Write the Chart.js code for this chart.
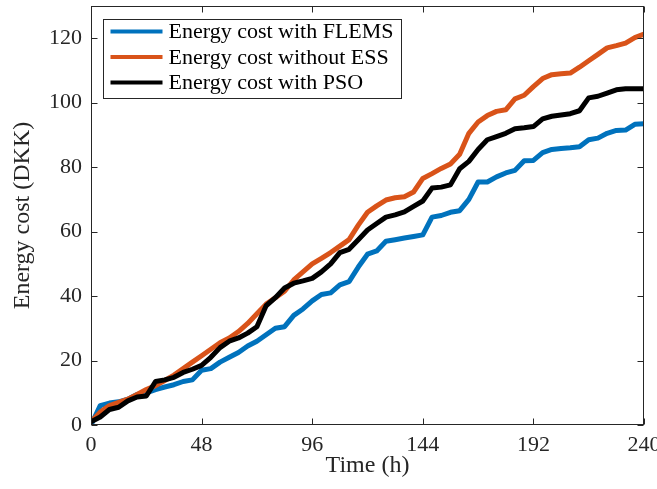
<!DOCTYPE html>
<html>

<head>
    <title>Energy cost over time</title>
    <script src="https://cdn.jsdelivr.net/npm/chart.js"></script>
    <style>
        body {
            margin: 0;
            background: #fff;
        }

        .chart-wrap {
            width: 657px;
            height: 489px;
        }
    </style>
</head>

<body>
    <div class="chart-wrap"><canvas id="costChart"></canvas></div>

    <script>
        // time axis (h)
        const hours = [0, 4, 8, 12, 16, 20, 24, 28, 32, 36, 40, 44, 48, 52, 56, 60, 64, 68, 72, 76, 80, 84, 88, 92, 96,
            100, 104, 108, 112, 116, 120, 124, 128, 132, 136, 140, 144, 148, 152, 156, 160, 164, 168, 172, 176, 180,
            184, 188, 192, 196, 200, 204, 208, 212, 216, 220, 224, 228, 232, 236, 240];

        // cost values (DKK)
        const costFlems = [0, 6, 6.8, 7.2, 8, 9.5, 10, 11, 11.8, 12.5, 13.5, 14, 17, 17.5, 19.5, 21, 22.5, 24.5, 26, 28,
            30, 30.5, 34, 36, 38.5, 40.5, 41, 43.5, 44.5, 49, 53, 54, 57, 57.5, 58, 58.5, 59, 64.5, 65, 66, 66.5, 70,
            75.4, 75.4, 77, 78.2, 79, 82, 82.1, 84.5, 85.5, 85.8, 86, 86.3, 88.5, 89, 90.5, 91.4, 91.5, 93.3, 93.5];
        const costNoEss = [1, 4, 6, 7, 8, 9.5, 11, 12.2, 13.8, 15.5, 17.5, 19.5, 21.5, 23.5, 25.5, 27, 29, 31.5, 34.5,
            37.5, 39.5, 41.5, 45, 47.5, 50, 51.7, 53.5, 55.5, 57.5, 62, 66, 68, 69.8, 70.5, 70.8, 72.3, 76.5, 78, 79.6,
            81, 84, 90.5, 94, 96, 97.3, 97.8, 101.2, 102.3, 105, 107.5, 108.7, 109, 109.2, 111, 113, 115, 117, 117.7,
            118.5, 120.2, 121.3];
        const costPso = [1, 2.5, 4.8, 5.5, 7.5, 8.7, 9, 13.5, 14, 14.8, 16.3, 17.3, 18.5, 21, 24, 26, 27, 28.5, 30.5,
            37, 39.5, 42.5, 44, 44.7, 45.5, 47.5, 50, 53.5, 54.5, 57.5, 60.5, 62.5, 64.5, 65.2, 66.1, 67.8, 69.5, 73.5,
            73.8, 74.5, 79.5, 81.8, 85.5, 88.5, 89.5, 90.5, 91.9, 92.2, 92.6, 95, 95.8, 96.2, 96.6, 97.5, 101.5, 102,
            103, 104, 104.3, 104.3, 104.3];

        const seriesLabels = ["Energy cost with FLEMS", "Energy cost without ESS", "Energy cost with PSO"];
        const seriesColors = ["#0072BD", "#D95319", "#000000"];

        const xTicks = [0, 48, 96, 144, 192, 240];
        const yTicks = [0, 20, 40, 60, 80, 100, 120];

        const axisColor = "#262626";
        const fontFamily = "'Liberation Serif', 'Times New Roman', serif";

        Chart.defaults.font.family = fontFamily;
        Chart.defaults.color = axisColor;

        // box round the axes with inward ticks on all four sides
        const framePlugin = {
            id: "frame",
            afterDatasetsDraw(chart) {
                const { ctx, chartArea: a, scales: { x, y } } = chart;
                const L = Math.round(a.left) + .5, R = Math.round(a.right) - .5;
                const T = Math.round(a.top) + .5, B = Math.round(a.bottom) - .5;
                const tl = 6;
                ctx.save();
                ctx.strokeStyle = axisColor;
                ctx.lineWidth = 1;
                ctx.strokeRect(L, T, R - L, B - T);
                ctx.beginPath();
                xTicks.forEach(v => {
                    const px = Math.round(x.getPixelForValue(v)) + .5;
                    ctx.moveTo(px, B); ctx.lineTo(px, B - tl);
                    ctx.moveTo(px, T); ctx.lineTo(px, T + tl);
                });
                yTicks.forEach(v => {
                    const py = Math.round(y.getPixelForValue(v)) + .5;
                    ctx.moveTo(L, py); ctx.lineTo(L + tl, py);
                    ctx.moveTo(R, py); ctx.lineTo(R - tl, py);
                });
                ctx.stroke();
                ctx.restore();
            }
        };

        // MATLAB style legend box in the upper left corner
        const legendBoxPlugin = {
            id: "legendBox",
            afterDraw(chart) {
                const { ctx, chartArea: a } = chart;
                const bx = a.left + 12.5, by = a.top + 13.5, bw = 298, bh = 79;
                ctx.save();
                ctx.fillStyle = "#fff";
                ctx.fillRect(bx, by, bw, bh);
                ctx.strokeStyle = axisColor;
                ctx.lineWidth = 1;
                ctx.strokeRect(bx, by, bw, bh);
                ctx.font = "22px " + fontFamily;
                ctx.textBaseline = "middle";
                ctx.fillStyle = "#000";
                chart.data.datasets.forEach((ds, i) => {
                    const rowY = by + 12 + i * 25.5;
                    ctx.strokeStyle = ds.borderColor;
                    ctx.lineWidth = 4;
                    ctx.beginPath();
                    ctx.moveTo(bx + 7, rowY);
                    ctx.lineTo(bx + 59, rowY);
                    ctx.stroke();
                    ctx.fillText(ds.label, bx + 65, rowY + 1);
                });
                ctx.restore();
            }
        };

        const lineProps = {
            borderWidth: 5,
            pointRadius: 0,
            tension: 0,
            fill: false,
            borderJoinStyle: "round",
            clip: 0,
        };

        const seriesValues = [costFlems, costNoEss, costPso];
        const datasets = seriesValues.map((vals, i) => ({
            label: seriesLabels[i],
            data: hours.map((h, k) => ({ x: h, y: vals[k] })),
            borderColor: seriesColors[i],
            backgroundColor: seriesColors[i],
            order: 3 - i,
            ...lineProps,
        }));

        new Chart(document.getElementById("costChart"), {
            type: "line",
            data: { datasets: datasets },
            options: {
                responsive: true,
                maintainAspectRatio: false,
                animation: false,
                layout: { padding: { top: 6, right: 13, left: 0, bottom: 0 } },
                plugins: {
                    legend: { display: false },
                    tooltip: { enabled: false },
                },
                scales: {
                    x: {
                        type: "linear",
                        min: 0,
                        max: 240,
                        afterBuildTicks: scale => { scale.ticks = xTicks.map(v => ({ value: v })); },
                        afterFit: scale => {
                            scale.height = 64;
                            scale.paddingLeft = 0;
                            scale.paddingRight = 0;
                        },
                        grid: { display: false, drawTicks: false },
                        border: { display: false },
                        ticks: {
                            font: { size: 22 },
                            color: axisColor,
                            padding: 7,
                            maxRotation: 0,
                        },
                        title: {
                            display: true,
                            text: "Time (h)",
                            font: { size: 24 },
                            color: axisColor,
                            padding: { top: 0, bottom: 9 },
                        },
                    },
                    y: {
                        min: 0,
                        max: 130,
                        afterBuildTicks: scale => { scale.ticks = yTicks.map(v => ({ value: v })); },
                        afterFit: scale => {
                            scale.width = 91;
                            scale.paddingTop = 0;
                            scale.paddingBottom = 0;
                        },
                        grid: { display: false, drawTicks: false },
                        border: { display: false },
                        ticks: {
                            font: { size: 22 },
                            color: axisColor,
                            padding: 9,
                        },
                        title: {
                            display: true,
                            text: "Energy cost (DKK)",
                            font: { size: 24 },
                            color: axisColor,
                            padding: { top: 8, bottom: 0 },
                        },
                    },
                },
            },
            plugins: [framePlugin, legendBoxPlugin],
        });
    </script>
</body>

</html>
